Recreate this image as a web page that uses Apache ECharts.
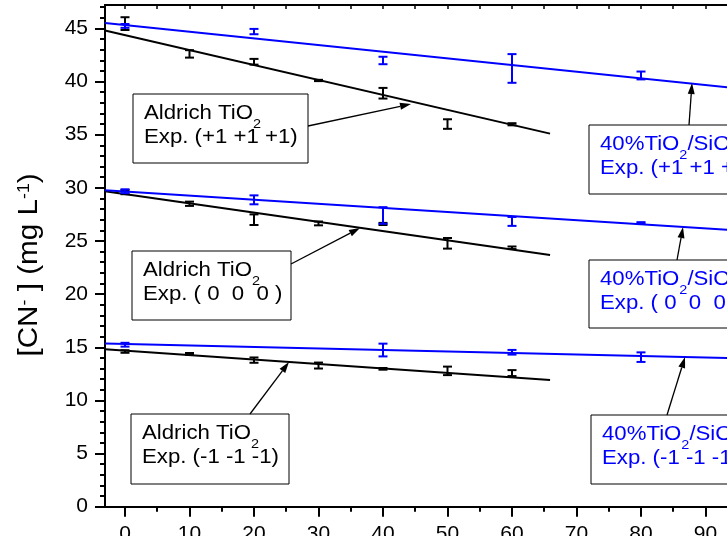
<!DOCTYPE html>
<html><head><meta charset="utf-8">
<script src="https://cdn.jsdelivr.net/npm/echarts@6/dist/echarts.min.js"></script>
<style>html,body{margin:0;padding:0;background:#fff}#c{width:727px;height:536px}</style>
</head><body><div id="c"></div>
<script>
// ---- tick values ----
const xTickLabels = [0, 10, 20, 30, 40, 50, 60, 70, 80, 90, 100];
const xMinorTicks = [5, 15, 25, 35, 45, 55, 65, 75, 85, 95];
const xTopTicks = [0, 5, 10, 15, 20, 25, 30, 35, 40, 45, 50, 55, 60, 65, 70, 75, 80, 85, 90, 95, 100];
const yTickLabels = [0, 5, 10, 15, 20, 25, 30, 35, 40, 45];
const yMinorTicks = [1, 2, 3, 4, 6, 7, 8, 9, 11, 12, 13, 14, 16, 17, 18, 19, 21, 22, 23, 24, 26, 27, 28, 29, 31, 32, 33, 34, 36, 37, 38, 39, 41, 42, 43, 44, 46, 47];

// ---- measured data (time, [CN-]) ----
const timeAldrich = [0, 10, 20, 30, 40, 50, 60];
const aldrichHigh = [45.45, 42.6, 41.86, 40.1, 38.9, 36.0, 35.98];
const aldrichHighErr = [0.6, 0.35, 0.27, 0.06, 0.5, 0.45, 0.1];
const aldrichMid = [29.6, 28.5, 27.0, 26.65, 26.6, 24.78, 24.36];
const aldrichMidErr = [0.2, 0.2, 0.5, 0.18, 0.1, 0.5, 0.12];
const aldrichLow = [14.6, 14.38, 13.79, 13.28, 12.97, 12.78, 12.57];
const aldrichLowErr = [0.12, 0.08, 0.25, 0.28, 0.08, 0.4, 0.28];

const timeSiO2 = [0, 20, 40, 60, 80];
const sio2High = [45.23, 44.7, 41.98, 41.23, 40.57];
const sio2HighErr = [0.18, 0.25, 0.35, 1.35, 0.37];
const sio2Mid = [29.68, 28.87, 27.4, 26.84, 26.71];
const sio2MidErr = [0.18, 0.42, 0.78, 0.42, 0.06];
const timeSiO2Low = [0, 40, 60, 80];
const sio2Low = [15.24, 14.74, 14.53, 14.07];
const sio2LowErr = [0.18, 0.6, 0.22, 0.45];

// ---- linear fits (end points) ----
const fitAldrichHigh = [[-3.1, 44.8], [65.9, 35.1]];
const fitAldrichMid = [[-3.1, 29.67], [65.9, 23.68]];
const fitAldrichLow = [[-3.1, 14.82], [65.9, 11.91]];
const fitSiO2High = [[-3.1, 45.5], [100, 39.05]];
const fitSiO2Mid = [[-3.1, 29.77], [100, 25.81]];
const fitSiO2Low = [[-3.1, 15.36], [100, 13.9]];

// ---- annotation texts ----
const aldrichName = 'Aldrich TiO';
const sio2Name = '40%TiO';
const sio2NameTail = '/SiO';
const expLabels = ['Exp. (+1 +1 +1)', 'Exp. ( 0  0  0 )', 'Exp. (-1 -1 -1)'];

const BLACK = '#000000', BLUE = '#0000ff';
const FONT = '"Liberation Sans", Arial, sans-serif';

function zip(xs, ys, es) { return xs.map((x, i) => [x, ys[i], es[i]]); }

function errSeries(data, color) {
  return {
    type: 'custom', data: data, z: color === BLUE ? 4 : 3,
    renderItem: function (params, api) {
      const x = api.value(0), y = api.value(1), e = api.value(2);
      const t = api.coord([x, y + e]), b = api.coord([x, y - e]);
      const hw = 4.5;
      const st = { stroke: color, lineWidth: 2 };
      return { type: 'group', children: [
        { type: 'line', shape: { x1: t[0], y1: t[1], x2: b[0], y2: b[1] }, style: st },
        { type: 'line', shape: { x1: t[0] - hw, y1: t[1], x2: t[0] + hw, y2: t[1] }, style: st },
        { type: 'line', shape: { x1: b[0] - hw, y1: b[1], x2: b[0] + hw, y2: b[1] }, style: st }
      ] };
    }
  };
}
function fitSeries(data, color) {
  return { type: 'line', data: data, showSymbol: false, symbol: 'none', z: color === BLUE ? 4 : 3,
    lineStyle: { color: color, width: 2 }, silent: true };
}

// text width measurement
const mctx = document.createElement('canvas').getContext('2d');
function tw(str, size) { mctx.font = size + 'px ' + FONT; return mctx.measureText(str).width; }

const FS = 20, SUB = 13, SX = 1.11;
const graphics = [];
function box(x, y, w, h, color, line1Parts, line2) {
  graphics.push({ type: 'rect', shape: { x: x, y: y, width: w, height: h }, style: { fill: '#fff', stroke: '#000', lineWidth: 1 }, z: 10 });
  let cx = x + 11;
  const base1 = y + 29, base2 = y + 53;
  line1Parts.forEach(p => {
    const size = p.sub ? SUB : FS;
    graphics.push({ type: 'text', x: cx, y: p.sub ? base1 + 8 : base1, z: 11, scaleX: SX,
      style: { text: p.t, fill: color, font: size + 'px ' + FONT, verticalAlign: 'bottom', align: 'left' } });
    cx += tw(p.t, size) * SX;
  });
  graphics.push({ type: 'text', x: x + 11, y: base2, z: 11, scaleX: SX,
    style: { text: line2, fill: color, font: FS + 'px ' + FONT, verticalAlign: 'bottom', align: 'left' } });
}
function arrow(x1, y1, x2, y2) {
  const a = Math.atan2(y2 - y1, x2 - x1), L = 11, W = 3.5;
  const bx = x2 - L * Math.cos(a), by = y2 - L * Math.sin(a);
  graphics.push({ type: 'line', shape: { x1: x1, y1: y1, x2: bx, y2: by }, style: { stroke: '#000', lineWidth: 1.3 }, z: 12 });
  graphics.push({ type: 'polygon', z: 12, shape: { points: [[x2, y2],
    [bx + W * Math.sin(a), by - W * Math.cos(a)], [bx - W * Math.sin(a), by + W * Math.cos(a)]] }, style: { fill: '#000' } });
}
const aldParts = [{ t: aldrichName }, { t: '2', sub: true }];
const sioParts = [{ t: sio2Name }, { t: '2', sub: true }, { t: sio2NameTail }, { t: '2', sub: true }];
box(133, 94, 175, 69, BLACK, aldParts, expLabels[0]);
box(132, 251, 159, 69, BLACK, aldParts, expLabels[1]);
box(131, 414, 158, 70, BLACK, aldParts, expLabels[2]);
box(589, 125, 200, 69, BLUE, sioParts, expLabels[0]);
box(589, 260, 200, 68, BLUE, sioParts, expLabels[1]);
box(591, 415, 200, 69, BLUE, sioParts, expLabels[2]);
arrow(308, 126, 411, 104);
arrow(291, 264, 360, 228);
arrow(250, 414, 289, 362);
arrow(689, 125, 692, 83);
arrow(677, 260, 683, 227);
arrow(667, 415, 685, 357);

// y axis title
graphics.push({ type: 'text', x: 30, y: 265, rotation: Math.PI / 2, scaleX: 1.1, z: 11,
  style: { text: '[CN{s|-} ] (mg L{s|-1})', fill: '#000', align: 'center', verticalAlign: 'middle',
    font: '27px ' + FONT,
    rich: { s: { fontSize: 16, fontFamily: FONT, verticalAlign: 'top', lineHeight: 16 } } } });

const chart = echarts.init(document.getElementById('c'), null, { renderer: 'canvas' });
const axisLabelStyle = { color: '#000', fontSize: 21, fontFamily: FONT };
chart.setOption({
  animation: false,
  backgroundColor: '#fff',
  grid: { left: 105, top: 5, width: 665, height: 501.7, containLabel: false, outerBoundsMode: 'none', show: false },
  xAxis: [
    { type: 'value', position: 'bottom', min: -3.1, max: 100,
      axisLine: { show: true, onZero: false, lineStyle: { color: '#000', width: 2 } },
      axisTick: { show: true, inside: false, length: 10, lineStyle: { color: '#000', width: 2 }, customValues: xTickLabels },
      axisLabel: Object.assign({ margin: 17, customValues: xTickLabels }, axisLabelStyle),
      splitLine: { show: false } },
    { type: 'value', position: 'bottom', min: -3.1, max: 100,
      axisLine: { show: false, onZero: false },
      axisTick: { show: true, inside: false, length: 5, lineStyle: { color: '#000', width: 2 }, customValues: xMinorTicks },
      axisLabel: { show: false }, splitLine: { show: false } },
    { type: 'value', position: 'top', min: -3.1, max: 100,
      axisLine: { show: true, onZero: false, lineStyle: { color: '#000', width: 2 } },
      axisTick: { show: true, inside: true, length: 4, lineStyle: { color: '#000', width: 1.5 }, customValues: xTopTicks },
      axisLabel: { show: false }, splitLine: { show: false } }
  ],
  yAxis: [
    { type: 'value', position: 'left', min: 0, max: 47.2,
      axisLine: { show: true, onZero: false, lineStyle: { color: '#000', width: 2 } },
      axisTick: { show: true, inside: false, length: 10, lineStyle: { color: '#000', width: 2 }, customValues: yTickLabels },
      axisLabel: Object.assign({ margin: 17, customValues: yTickLabels }, axisLabelStyle),
      splitLine: { show: false } },
    { type: 'value', position: 'left', min: 0, max: 47.2,
      axisLine: { show: false, onZero: false },
      axisTick: { show: true, inside: false, length: 5, lineStyle: { color: '#000', width: 2 }, customValues: yMinorTicks },
      axisLabel: { show: false }, splitLine: { show: false } }
  ],
  series: [
    fitSeries(fitAldrichHigh, BLACK), fitSeries(fitAldrichMid, BLACK), fitSeries(fitAldrichLow, BLACK),
    errSeries(zip(timeAldrich, aldrichHigh, aldrichHighErr), BLACK),
    errSeries(zip(timeAldrich, aldrichMid, aldrichMidErr), BLACK),
    errSeries(zip(timeAldrich, aldrichLow, aldrichLowErr), BLACK),
    fitSeries(fitSiO2High, BLUE), fitSeries(fitSiO2Mid, BLUE), fitSeries(fitSiO2Low, BLUE),
    errSeries(zip(timeSiO2, sio2High, sio2HighErr), BLUE),
    errSeries(zip(timeSiO2, sio2Mid, sio2MidErr), BLUE),
    errSeries(zip(timeSiO2Low, sio2Low, sio2LowErr), BLUE)
  ],
  graphic: graphics
});
</script></body></html>
